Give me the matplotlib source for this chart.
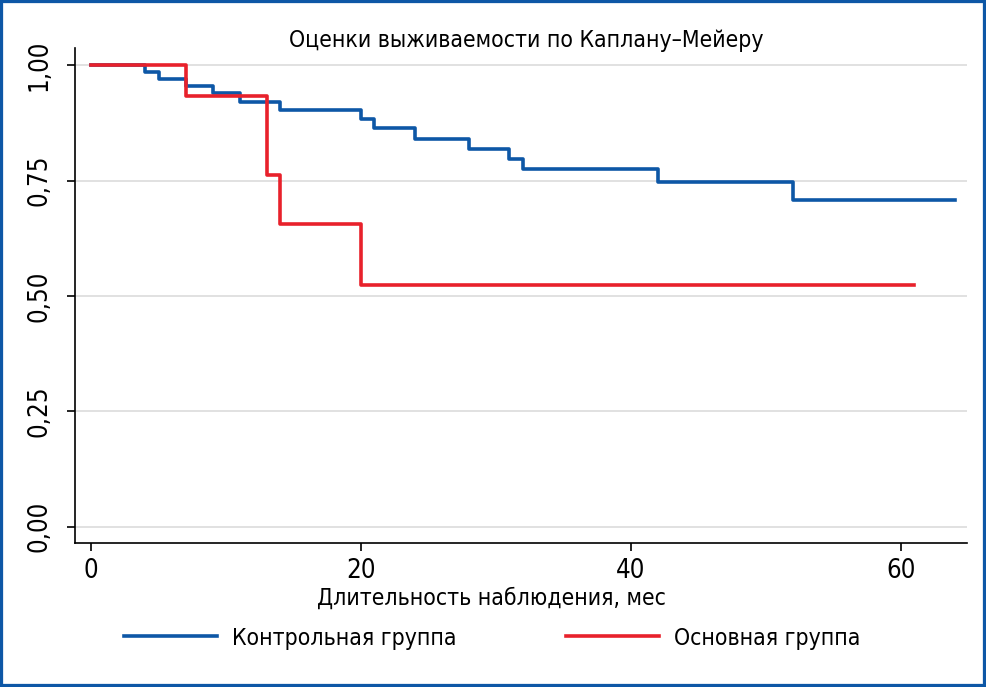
import matplotlib
matplotlib.use('Agg')
import matplotlib.pyplot as plt
from matplotlib import font_manager
from matplotlib.patches import Rectangle

# ==========================================================
# ДАННЫЕ
# ==========================================================
t_control = [0, 4, 5, 7, 9, 11, 14, 20, 21, 24, 28, 31, 32, 42, 52, 64]
s_control = [1.000, 0.985, 0.970, 0.954, 0.939, 0.921, 0.903, 0.883, 0.863,
             0.841, 0.818, 0.797, 0.774, 0.746, 0.708, 0.708]

t_main = [0, 7, 13, 14, 20, 61]
s_main = [1.000, 0.933, 0.763, 0.655, 0.524, 0.524]

y_ticks = [0.0, 0.25, 0.5, 0.75, 1.0]
y_labels = ['0,00', '0,25', '0,50', '0,75', '1,00']
x_ticks = [0, 20, 40, 60]

lbl_control = 'Контрольная группа'
lbl_main = 'Основная группа'
titulo = 'Оценки выживаемости по Каплану–Мейеру'
xlab = 'Длительность наблюдения, мес'

AZUL = '#0d57a6'
VERMELHO = '#e8212b'

# procurar uma fonte estreita (condensed / narrow), se houver
estreitas = []
for f in font_manager.fontManager.ttflist:
    nome = f.name.lower()
    if ('condensed' in nome or 'narrow' in nome or str(f.stretch) in ('condensed', 'semi-condensed', '87.5', '75')) \
            and f.style == 'normal':
        estreitas.append(f)

condensada = None
for f in estreitas:
    if f.weight in (400, 'normal', 'regular', 300, 'light'):
        condensada = f
        break
if condensada is None and estreitas:
    condensada = estreitas[0]

if condensada is not None:
    plt.rcParams['font.family'] = [condensada.name, 'DejaVu Sans']
    plt.rcParams['font.stretch'] = condensada.stretch
    ESCALA = 1.0
else:
    plt.rcParams['font.family'] = ['DejaVu Sans']
    ESCALA = 0.86

fig = plt.figure(figsize=(9.86, 6.87), dpi=100)
ax = fig.add_axes([75/986, 1-543/687, (967-75)/986, (543-48)/687])

ax.step(t_control, s_control, where='post', color=AZUL, lw=2.6, label=lbl_control)
ax.step(t_main, s_main, where='post', color=VERMELHO, lw=2.6, label=lbl_main)

ax.set_xlim(-1.19, 64.9)
ax.set_ylim(-0.035, 1.037)
ax.set_yticks(y_ticks)
ax.set_yticklabels(y_labels, rotation=90, va='center')
ax.set_xticks(x_ticks)
ax.tick_params(axis='both', length=5.5, width=1.2, labelsize=18.5 * ESCALA)
ax.tick_params(axis='x', pad=5)
ax.tick_params(axis='y', pad=11)
ax.grid(axis='y', color='#dcdcdc', lw=1.2)
ax.set_axisbelow(True)
for s in ['top', 'right']:
    ax.spines[s].set_visible(False)
for s in ['left', 'bottom']:
    ax.spines[s].set_linewidth(1.2)

fig.text(526/986, 1-41/687, titulo, ha='center', va='center', fontsize=16.5 * ESCALA)
fig.text(491/986, 1-598/687, xlab, ha='center', va='center', fontsize=16.5 * ESCALA)

fig.legend(loc='center', bbox_to_anchor=(492/986, 1-638/687), ncol=2, frameon=False,
           fontsize=16.5 * ESCALA, handlelength=4.06, handletextpad=0.65, columnspacing=4.8)

fig.patches.append(Rectangle((0, 0), 1, 1, transform=fig.transFigure, fill=False,
                             edgecolor=AZUL, lw=4.5, zorder=10))

plt.savefig('out.png', dpi=100)
plt.close()
